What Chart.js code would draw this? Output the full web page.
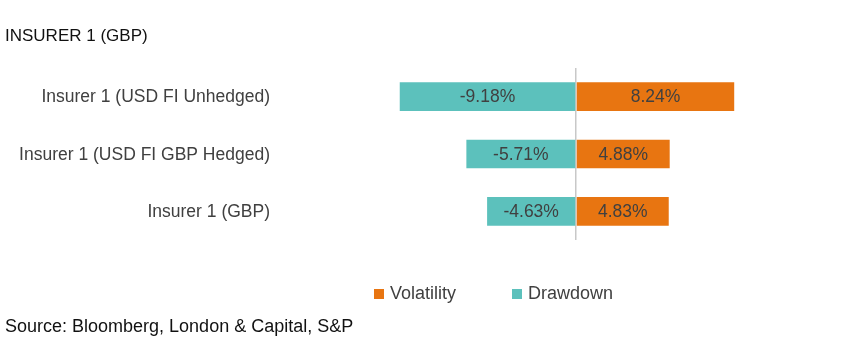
<!DOCTYPE html>
<html>
<head>
<meta charset="utf-8">
<script src="https://cdn.jsdelivr.net/npm/chart.js@4"></script>
<style>
  body { margin: 0; background: #fff; font-family: "Liberation Sans", Arial, sans-serif; }
  #wrap { position: relative; width: 865px; height: 363px; }
  #chart { position: absolute; left: 0; top: 0; }
  #title { position: absolute; left: 5px; top: 26px; font-size: 17px; color: #111; }
  #source { position: absolute; left: 5px; top: 316px; font-size: 18px; color: #111; }
  #legend { position: absolute; left: 374px; top: 283px; font-size: 18px; color: #404040; display: flex; }
  .item { display: flex; align-items: center; margin-right: 56px; }
  .box { width: 10px; height: 10px; margin-right: 6px; }
</style>
</head>
<body>
<div id="wrap">
  <canvas id="chart" width="865" height="363"></canvas>
  <div id="title">INSURER 1 (GBP)</div>
  <div id="legend"></div>
  <div id="source">Source: Bloomberg, London &amp; Capital, S&amp;P</div>
</div>
<script>
const categories = ["Insurer 1 (USD FI Unhedged)", "Insurer 1 (USD FI GBP Hedged)", "Insurer 1 (GBP)"];
const volatility = [8.24, 4.88, 4.83];
const drawdown = [-9.18, -5.71, -4.63];
const seriesNames = ["Volatility", "Drawdown"];
const seriesColors = ["#E87511", "#5CC1BC"];

// value labels inside bars + category labels left of the plot
const barLabels = {
    id: "barLabels",
    afterDatasetsDraw(chart) {
        const ctx = chart.ctx;
        ctx.save();
        ctx.font = "17.5px 'Liberation Sans', Arial, sans-serif";
        ctx.fillStyle = "#404040";
        ctx.textAlign = "center";
        ctx.textBaseline = "middle";
        chart.data.datasets.forEach((ds, i) => {
            chart.getDatasetMeta(i).data.forEach((bar, j) => {
                const x = (bar.x + bar.base) / 2;
                ctx.fillText(ds.data[j].toFixed(2) + "%", x, bar.y + 1);
            });
        });
        const yScale = chart.scales.y;
        ctx.textAlign = "right";
        chart.data.labels.forEach((lab, j) => {
            ctx.fillText(lab, 270, yScale.getPixelForTick(j) + 1);
        });
        ctx.restore();
    }
};

const chart = new Chart(document.getElementById("chart"), {
    type: "bar",
    data: {
        labels: categories,
        datasets: [
            { label: seriesNames[0], data: volatility, backgroundColor: seriesColors[0] },
            { label: seriesNames[1], data: drawdown, backgroundColor: seriesColors[1] }
        ]
    },
    options: {
        indexAxis: "y",
        responsive: false,
        animation: false,
        layout: { padding: { left: 0, right: 97, top: 68, bottom: 123 } },
        datasets: { bar: { barPercentage: 0.5, categoryPercentage: 1.0 } },
        plugins: {
            legend: { display: false },
            tooltip: { enabled: false }
        },
        scales: {
            x: {
                stacked: true,
                min: -10,
                max: 10,
                ticks: { display: false, stepSize: 1 },
                border: { display: false },
                grid: {
                    drawTicks: false,
                    lineWidth: 1.5,
                    color: c => c.tick && c.tick.value === 0 ? "#c8c8c8" : "rgba(0,0,0,0)"
                }
            },
            y: {
                stacked: true,
                grid: { display: false },
                border: { display: false },
                ticks: { display: false },
                afterFit: function(scale) { scale.width = 384; }
            }
        }
    },
    plugins: [barLabels]
});

let html = "";
seriesNames.forEach((n, i) => {
    html += `<div class="item"><div class="box" style="background:${seriesColors[i]}"></div>${n}</div>`;
});
document.getElementById("legend").innerHTML = html;
</script>
</body>
</html>
